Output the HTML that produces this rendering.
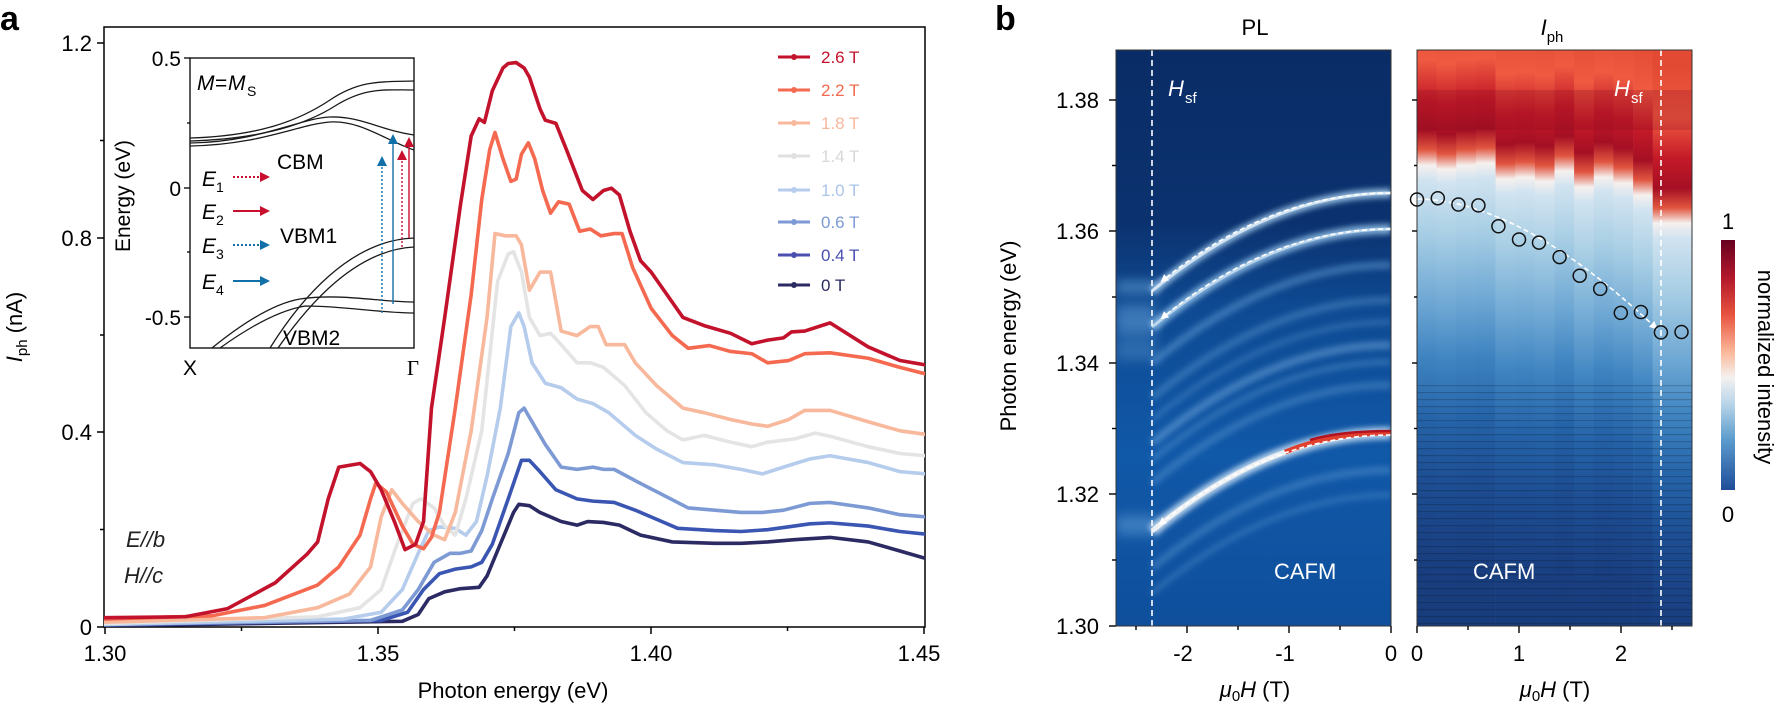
<!DOCTYPE html>
<html><head><meta charset="utf-8"><style>
html,body{margin:0;padding:0;background:#fff;overflow:hidden;width:1777px;height:711px;}
svg{display:block;font-family:"Liberation Sans",Arial,sans-serif;}
</style></head><body>
<svg width="1777" height="711" viewBox="0 0 1777 711" xmlns="http://www.w3.org/2000/svg" overflow="hidden">
<defs>
 <clipPath id="cA"><rect x="104" y="27" width="821" height="600"/></clipPath>
 <clipPath id="cIn"><rect x="190" y="58" width="224" height="290"/></clipPath>
 <clipPath id="cPL"><rect x="1116" y="50" width="275" height="576"/></clipPath>
 <clipPath id="cIp"><rect x="1417" y="50" width="275" height="576"/></clipPath>
 <filter id="bl" x="-20%" y="-50%" width="140%" height="200%"><feGaussianBlur stdDeviation="3"/></filter>
 <filter id="bl2" x="-20%" y="-50%" width="140%" height="200%"><feGaussianBlur stdDeviation="6"/></filter>
 <linearGradient id="plbg" x1="0" y1="50" x2="0" y2="626" gradientUnits="userSpaceOnUse">
  <stop offset="0" stop-color="#0a2c66"/><stop offset="0.3" stop-color="#0b326f"/>
  <stop offset="0.45" stop-color="#0e4a93"/><stop offset="0.7" stop-color="#1058a8"/>
  <stop offset="1" stop-color="#0f4f9c"/>
 </linearGradient>
 <linearGradient id="ig" x1="0" y1="0" x2="0" y2="700" gradientUnits="userSpaceOnUse">
  <stop offset="0.014" stop-color="#e34a33"/><stop offset="0.086" stop-color="#ef5a41"/>
  <stop offset="0.143" stop-color="#c41a28"/><stop offset="0.186" stop-color="#a50f24"/>
  <stop offset="0.214" stop-color="#e0553f"/><stop offset="0.236" stop-color="#f5f0ee"/>
  <stop offset="0.257" stop-color="#d1e3f0"/><stop offset="0.33" stop-color="#a9cfe5"/>
  <stop offset="0.43" stop-color="#6fa8d4"/><stop offset="0.51" stop-color="#3f84c1"/>
  <stop offset="0.6" stop-color="#2563a8"/><stop offset="0.69" stop-color="#1d4d92"/>
  <stop offset="0.8" stop-color="#193f80"/><stop offset="1" stop-color="#173a78"/>
 </linearGradient>
 <linearGradient id="cb" x1="0" y1="0" x2="0" y2="1">
  <stop offset="0" stop-color="#67001f"/><stop offset="0.15" stop-color="#b2182b"/>
  <stop offset="0.3" stop-color="#e8543f"/><stop offset="0.45" stop-color="#fbb99c"/>
  <stop offset="0.55" stop-color="#f4f1f0"/><stop offset="0.65" stop-color="#bcd7ea"/>
  <stop offset="0.8" stop-color="#5a9bcd"/><stop offset="1" stop-color="#1f4d9a"/>
 </linearGradient>
 <pattern id="str" x="0" y="0" width="10" height="7" patternUnits="userSpaceOnUse">
  <rect x="0" y="0" width="10" height="1.2" fill="#000" opacity="0.18"/>
 </pattern>
 <marker id="aw" markerWidth="8" markerHeight="8" refX="6" refY="4" orient="auto" markerUnits="userSpaceOnUse"><path d="M0,0 L8,4 L0,8 Z" fill="#fff"/></marker>
 <marker id="ar" markerWidth="10" markerHeight="10" refX="8" refY="5" orient="auto" markerUnits="userSpaceOnUse"><path d="M0,0 L10,5 L0,10 Z" fill="#c8102e"/></marker>
 <marker id="ab" markerWidth="10" markerHeight="10" refX="8" refY="5" orient="auto" markerUnits="userSpaceOnUse"><path d="M0,0 L10,5 L0,10 Z" fill="#1170a8"/></marker>
</defs>

<!-- ============ Panel a ============ -->
<text x="0" y="30" font-size="34" font-weight="bold">a</text>
<rect x="104" y="27" width="821" height="600" fill="none" stroke="#000" stroke-width="1.5"/>
<g stroke="#000" stroke-width="1.5">
 <line x1="97" y1="627" x2="104" y2="627"/><line x1="97" y1="432" x2="104" y2="432"/>
 <line x1="97" y1="238" x2="104" y2="238"/><line x1="97" y1="43" x2="104" y2="43"/>
 <line x1="100" y1="529.5" x2="104" y2="529.5"/><line x1="100" y1="335" x2="104" y2="335"/><line x1="100" y1="140.5" x2="104" y2="140.5"/>
 <line x1="105" y1="627" x2="105" y2="634"/><line x1="378" y1="627" x2="378" y2="634"/>
 <line x1="651" y1="627" x2="651" y2="634"/><line x1="924" y1="627" x2="924" y2="634"/>
 <line x1="241.5" y1="627" x2="241.5" y2="631"/><line x1="514.5" y1="627" x2="514.5" y2="631"/><line x1="787.5" y1="627" x2="787.5" y2="631"/>
</g>
<g font-size="22" text-anchor="end">
 <text x="92" y="635">0</text><text x="92" y="440">0.4</text><text x="92" y="246">0.8</text><text x="92" y="51">1.2</text>
</g>
<g font-size="22" text-anchor="middle">
 <text x="105" y="661">1.30</text><text x="378" y="661">1.35</text><text x="651" y="661">1.40</text><text x="919" y="661">1.45</text>
</g>
<text x="513" y="698" font-size="22" text-anchor="middle">Photon energy (eV)</text>
<text transform="translate(22,327) rotate(-90)" font-size="22" text-anchor="middle"><tspan font-style="italic">I</tspan><tspan font-size="15" dy="5">ph</tspan><tspan dy="-5"> (nA)</tspan></text>

<g clip-path="url(#cA)">
<g transform="scale(0.5294,0.4535)" fill="none" stroke-width="3.6" stroke-linejoin="round" stroke-linecap="round">
 <polyline vector-effect="non-scaling-stroke" stroke="#2c2a63" points="197,1380 760,1370 790,1355 810,1320 840,1305 870,1298 905,1295 920,1270 945,1200 970,1130 980,1112 1000,1115 1020,1130 1060,1150 1090,1158 1110,1150 1140,1152 1170,1158 1210,1180 1270,1195 1350,1198 1400,1198 1450,1195 1500,1190 1568,1185 1640,1195 1700,1215 1750,1232"/>
 <polyline vector-effect="non-scaling-stroke" stroke="#3a56b2" points="197,1378 720,1368 770,1350 800,1300 830,1265 860,1255 890,1250 910,1240 930,1200 960,1100 985,1015 1000,1015 1020,1040 1050,1080 1090,1100 1120,1105 1160,1108 1200,1125 1250,1150 1280,1165 1350,1170 1400,1172 1450,1168 1500,1160 1530,1155 1568,1153 1640,1160 1700,1172 1750,1178"/>
 <polyline vector-effect="non-scaling-stroke" stroke="#7d9ad4" points="197,1377 700,1368 760,1345 790,1300 820,1240 850,1220 870,1220 890,1215 910,1170 930,1100 960,1000 980,910 990,900 1000,920 1030,980 1060,1030 1090,1035 1120,1030 1140,1035 1160,1035 1200,1060 1250,1090 1300,1120 1350,1125 1400,1130 1440,1130 1480,1125 1530,1110 1568,1108 1640,1120 1700,1135 1750,1140"/>
 <polyline vector-effect="non-scaling-stroke" stroke="#b5ccec" points="197,1377 650,1365 720,1350 760,1300 790,1220 810,1170 830,1162 860,1165 880,1180 900,1150 920,1050 945,900 965,720 980,690 990,720 1005,800 1030,845 1060,855 1090,880 1120,890 1150,910 1200,960 1240,990 1290,1020 1350,1025 1400,1035 1440,1045 1480,1030 1530,1012 1568,1005 1640,1020 1700,1040 1750,1045"/>
 <polyline vector-effect="non-scaling-stroke" stroke="#e4e4e4" points="197,1375 600,1360 680,1340 720,1300 750,1200 780,1110 795,1100 820,1120 840,1160 860,1180 880,1100 910,950 940,620 960,560 970,555 985,600 1000,700 1020,740 1040,735 1060,760 1090,800 1115,800 1140,810 1180,850 1220,910 1260,950 1290,970 1330,960 1380,975 1420,985 1450,975 1500,968 1540,955 1568,962 1640,985 1700,1000 1750,1005"/>
 <polyline vector-effect="non-scaling-stroke" stroke="#f8b89c" points="197,1372 500,1362 600,1340 660,1310 700,1250 720,1140 740,1080 760,1110 790,1150 820,1180 840,1190 860,1130 890,950 920,700 935,515 955,520 975,520 985,540 1000,640 1020,600 1040,600 1060,730 1090,740 1115,720 1130,720 1145,760 1180,760 1200,800 1240,850 1290,900 1330,910 1380,925 1420,935 1450,940 1490,925 1520,905 1568,905 1640,930 1700,950 1750,958"/>
 <polyline vector-effect="non-scaling-stroke" stroke="#f4694f" points="197,1365 400,1358 500,1335 600,1290 640,1250 680,1180 700,1100 710,1065 730,1085 760,1160 780,1200 800,1210 815,1185 830,1130 860,900 890,650 910,440 925,330 935,292 950,350 965,400 975,395 985,340 998,315 1010,350 1025,420 1040,470 1055,445 1075,450 1095,510 1115,505 1135,520 1160,515 1175,515 1195,590 1230,680 1270,740 1300,768 1340,762 1380,775 1420,780 1450,800 1490,795 1520,780 1568,778 1640,790 1700,810 1750,825"/>
 <polyline vector-effect="non-scaling-stroke" stroke="#c3122c" points="197,1362 350,1360 430,1342 520,1285 580,1222 600,1195 620,1100 640,1030 680,1022 700,1040 720,1080 745,1150 765,1212 785,1200 800,1150 815,900 840,700 870,450 890,300 905,262 915,270 930,200 950,150 960,140 975,138 990,150 1000,170 1020,240 1030,265 1050,272 1070,330 1100,420 1120,440 1140,420 1155,415 1170,430 1190,510 1210,575 1230,600 1260,650 1290,700 1330,718 1380,735 1420,758 1450,750 1480,745 1495,732 1520,730 1568,712 1640,765 1700,795 1750,805"/>
</g>
</g>

<!-- legend -->
<g font-size="17">
 <g stroke-width="3"><line x1="778" y1="57" x2="810" y2="57" stroke="#c3122c"/><circle cx="794" cy="57" r="3" fill="#c3122c"/></g><text x="821" y="63" fill="#c3122c">2.6 T</text>
 <g stroke-width="3"><line x1="778" y1="90" x2="810" y2="90" stroke="#f4694f"/><circle cx="794" cy="90" r="3" fill="#f4694f"/></g><text x="821" y="96" fill="#f4694f">2.2 T</text>
 <g stroke-width="3"><line x1="778" y1="123" x2="810" y2="123" stroke="#f8b89c"/><circle cx="794" cy="123" r="3" fill="#f8b89c"/></g><text x="821" y="129" fill="#f8b89c">1.8 T</text>
 <g stroke-width="3"><line x1="778" y1="156" x2="810" y2="156" stroke="#e0e0e0"/><circle cx="794" cy="156" r="3" fill="#e0e0e0"/></g><text x="821" y="162" fill="#d8d8d8">1.4 T</text>
 <g stroke-width="3"><line x1="778" y1="190" x2="810" y2="190" stroke="#b5ccec"/><circle cx="794" cy="190" r="3" fill="#b5ccec"/></g><text x="821" y="196" fill="#a9c3e8">1.0 T</text>
 <g stroke-width="3"><line x1="778" y1="222" x2="810" y2="222" stroke="#7d9ad4"/><circle cx="794" cy="222" r="3" fill="#7d9ad4"/></g><text x="821" y="228" fill="#7d9ad4">0.6 T</text>
 <g stroke-width="3"><line x1="778" y1="255" x2="810" y2="255" stroke="#4a4fb0"/><circle cx="794" cy="255" r="3" fill="#4a4fb0"/></g><text x="821" y="261" fill="#4a4fb0">0.4 T</text>
 <g stroke-width="3"><line x1="778" y1="285" x2="810" y2="285" stroke="#2c2a63"/><circle cx="794" cy="285" r="3" fill="#2c2a63"/></g><text x="821" y="291" fill="#2c2a63">0 T</text>
</g>

<g font-size="22" font-style="italic" fill="#222">
 <text x="126" y="547">E//b</text><text x="124" y="583">H//c</text>
</g>

<!-- inset -->
<rect x="190" y="58" width="224" height="290" fill="#fff" stroke="#000" stroke-width="1.3"/>
<g stroke="#000" stroke-width="1.3">
 <line x1="184" y1="58" x2="190" y2="58"/><line x1="184" y1="188" x2="190" y2="188"/><line x1="184" y1="317" x2="190" y2="317"/>
 <line x1="187" y1="123" x2="190" y2="123"/><line x1="187" y1="252" x2="190" y2="252"/>
</g>
<g font-size="21" text-anchor="end"><text x="181" y="66">0.5</text><text x="181" y="196">0</text><text x="181" y="325">-0.5</text></g>
<text transform="translate(130,196) rotate(-90)" font-size="21" text-anchor="middle">Energy (eV)</text>
<text x="190" y="375" font-size="21" text-anchor="middle">X</text>
<text x="413" y="375" font-size="21" text-anchor="middle" font-family="Liberation Serif,serif">Γ</text>
<g clip-path="url(#cIn)" fill="none" stroke="#1a1a1a" stroke-width="1.3">
 <path d="M190,138 C260,136 300,120 330,100 S380,82 414,81"/>
 <path d="M190,141 C260,139 305,125 335,106 S385,90 414,90"/>
 <path d="M190,143 C260,142 300,118 330,117 S380,130 414,135"/>
 <path d="M190,146 C260,145 300,124 330,122 S385,140 414,150"/>
 <path d="M212,348 Q265,305 300,299 C340,293 380,302 414,302"/>
 <path d="M220,348 Q270,312 305,306 C345,306 380,313 414,313"/>
 <path d="M270,348 C300,300 350,240 414,238"/>
 <path d="M278,348 C308,305 355,250 414,247"/>
</g>
<g font-size="21">
 <text x="197" y="90" font-style="italic">M</text><text x="215" y="90">=</text><text x="228" y="90" font-style="italic">M</text><text x="247" y="96" font-size="14">S</text>
 <text x="277" y="169">CBM</text><text x="280" y="243">VBM1</text><text x="283" y="345">VBM2</text>
 <text x="202" y="186" font-style="italic">E</text><text x="216" y="192" font-size="14">1</text>
 <text x="202" y="219" font-style="italic">E</text><text x="216" y="225" font-size="14">2</text>
 <text x="202" y="253" font-style="italic">E</text><text x="216" y="259" font-size="14">3</text>
 <text x="202" y="289" font-style="italic">E</text><text x="216" y="295" font-size="14">4</text>
</g>
<g stroke-width="2" fill="none">
 <line x1="233" y1="177" x2="268" y2="177" stroke="#c8102e" stroke-dasharray="2 2" marker-end="url(#ar)"/>
 <line x1="233" y1="211" x2="268" y2="211" stroke="#c8102e" marker-end="url(#ar)"/>
 <line x1="233" y1="245" x2="268" y2="245" stroke="#1170a8" stroke-dasharray="2 2" marker-end="url(#ab)"/>
 <line x1="233" y1="281" x2="268" y2="281" stroke="#1170a8" marker-end="url(#ab)"/>
 <line x1="382" y1="313" x2="382" y2="158" stroke="#1170a8" stroke-width="1.4" stroke-dasharray="2 2" marker-end="url(#ab)"/>
 <line x1="393" y1="304" x2="393" y2="136" stroke="#1170a8" stroke-width="1.4" marker-end="url(#ab)"/>
 <line x1="402" y1="247" x2="402" y2="152" stroke="#c8102e" stroke-width="1.4" stroke-dasharray="2 2" marker-end="url(#ar)"/>
 <line x1="409" y1="238" x2="409" y2="139" stroke="#c8102e" stroke-width="1.4" marker-end="url(#ar)"/>
</g>

<!-- ============ Panel b ============ -->
<text x="995" y="30" font-size="34" font-weight="bold">b</text>
<text x="1255" y="35" font-size="22" text-anchor="middle">PL</text>
<text x="1552" y="35" font-size="22" text-anchor="middle"><tspan font-style="italic">I</tspan><tspan font-size="15" dy="7">ph</tspan></text>

<!-- PL map -->
<g clip-path="url(#cPL)">
 <rect x="1116" y="50" width="275" height="576" fill="url(#plbg)"/>
 <g filter="url(#bl2)" fill="#6aa6db">
  <rect x="1116" y="282" width="40" height="10" opacity="0.7"/>
  <rect x="1116" y="305" width="40" height="30" opacity="0.5"/>
  <rect x="1116" y="340" width="40" height="20" opacity="0.35"/>
  <rect x="1116" y="515" width="40" height="20" opacity="0.5"/>
 </g>
 <g fill="none" filter="url(#bl)">
  <path d="M1391,265 Q1271,265 1152,363" stroke="#6aa6db" stroke-width="8" opacity="0.45"/>
  <path d="M1391,300 Q1271,300 1152,398" stroke="#6aa6db" stroke-width="8" opacity="0.35"/>
  <path d="M1391,322 Q1271,322 1152,420" stroke="#6aa6db" stroke-width="6" opacity="0.3"/>
  <path d="M1391,345 Q1271,345 1152,443" stroke="#7fb4e2" stroke-width="8" opacity="0.45"/>
  <path d="M1391,362 Q1271,362 1152,460" stroke="#6aa6db" stroke-width="6" opacity="0.35"/>
  <path d="M1391,385 Q1271,385 1152,483" stroke="#6aa6db" stroke-width="8" opacity="0.35"/>
  <path d="M1391,470 Q1271,470 1152,568" stroke="#6aa6db" stroke-width="8" opacity="0.35"/>
  <path d="M1391,495 Q1271,495 1152,593" stroke="#6aa6db" stroke-width="6" opacity="0.3"/>
  <path d="M1391,193 Q1271,193 1152,291" stroke="#a8d0f0" stroke-width="9" opacity="0.85"/>
  <path d="M1391,229 Q1271,229 1152,327" stroke="#9ac8ee" stroke-width="10" opacity="0.8"/>
  <path d="M1391,433 Q1271,433 1152,531" stroke="#c6e0f5" stroke-width="12" opacity="0.9"/>
 </g>
 <path d="M1391,193 Q1271,193 1152,291" fill="none" stroke="#e6f2fb" stroke-width="3" opacity="0.8"/>
 <path d="M1391,229 Q1271,229 1152,327" fill="none" stroke="#d6eaf8" stroke-width="3" opacity="0.7"/>
 <path d="M1391,433 Q1271,433 1152,531" fill="none" stroke="#f4f4f4" stroke-width="5" opacity="0.9"/>
 <path d="M1391,433 Q1331,433 1285,452" fill="none" stroke="#e0402e" stroke-width="5"/>
 <path d="M1391,431 Q1340,431 1310,440" fill="none" stroke="#b3121f" stroke-width="2.5"/>
 <line x1="1152" y1="50" x2="1152" y2="626" stroke="#fff" stroke-width="1.6" stroke-dasharray="6 4"/>
 <g fill="none" stroke="#fff" stroke-width="1.6" stroke-dasharray="5 3">
  <path d="M1391,193 Q1271,193 1162,281" marker-end="url(#aw)"/>
  <path d="M1391,229 Q1271,229 1162,318" marker-end="url(#aw)"/>
  <path d="M1391,435 Q1271,435 1160,524" marker-end="url(#aw)"/>
 </g>
</g>
<rect x="1116" y="50" width="275" height="576" fill="none" stroke="#333" stroke-width="1"/>

<!-- Iph map -->
<g clip-path="url(#cIp)">
 <g transform="translate(1417,0)">
  <g transform="translate(0,0)"><rect x="0" y="50" width="20" height="576" fill="url(#ig)"/></g>
  <g transform="translate(0,4)"><rect x="19.6" y="46" width="20" height="576" fill="url(#ig)"/></g>
  <g transform="translate(0,0)"><rect x="39.3" y="50" width="20" height="576" fill="url(#ig)"/></g>
  <g transform="translate(0,-2)"><rect x="58.9" y="52" width="20" height="576" fill="url(#ig)"/></g>
  <g transform="translate(0,14)"><rect x="78.6" y="36" width="20" height="576" fill="url(#ig)"/></g>
  <g transform="translate(0,12)"><rect x="98.2" y="38" width="20" height="576" fill="url(#ig)"/></g>
  <g transform="translate(0,16)"><rect x="117.9" y="34" width="20" height="576" fill="url(#ig)"/></g>
  <g transform="translate(0,6)"><rect x="137.5" y="44" width="20" height="576" fill="url(#ig)"/></g>
  <g transform="translate(0,22)"><rect x="157.1" y="28" width="20" height="576" fill="url(#ig)"/></g>
  <g transform="translate(0,12)"><rect x="176.8" y="38" width="20" height="576" fill="url(#ig)"/></g>
  <g transform="translate(0,18)"><rect x="196.4" y="32" width="20" height="576" fill="url(#ig)"/></g>
  <g transform="translate(0,30)"><rect x="216.1" y="20" width="20" height="576" fill="url(#ig)"/></g>
  <g transform="translate(0,58)"><rect x="235.7" y="-8" width="20" height="576" fill="url(#ig)"/></g>
  <g transform="translate(0,58)"><rect x="255.4" y="-8" width="20" height="576" fill="url(#ig)"/></g>
  <rect x="0" y="90" width="275" height="40" fill="#8b0a1f" opacity="0.25"/>
 </g>
 <rect x="1417" y="380" width="275" height="246" fill="url(#str)"/>
 <line x1="1661" y1="50" x2="1661" y2="626" stroke="#fff" stroke-width="1.6" stroke-dasharray="6 4"/>
 <path d="M1417,199 Q1520,200 1656,328" fill="none" stroke="#fff" stroke-width="1.6" stroke-dasharray="5 3" marker-end="url(#aw)"/>
</g>
<rect x="1417" y="50" width="275" height="576" fill="none" stroke="#333" stroke-width="1"/>
<g fill="none" stroke="#111" stroke-width="1.5">
 <circle cx="1417" cy="199.5" r="6.5"/><circle cx="1437.8" cy="198.2" r="6.5"/><circle cx="1458.4" cy="204.5" r="6.5"/><circle cx="1478.4" cy="205.4" r="6.5"/>
 <circle cx="1498.4" cy="226.3" r="6.5"/><circle cx="1519" cy="239.5" r="6.5"/><circle cx="1539" cy="242.6" r="6.5"/><circle cx="1559.6" cy="257.1" r="6.5"/>
 <circle cx="1579.7" cy="275.7" r="6.5"/><circle cx="1600.2" cy="288.9" r="6.5"/><circle cx="1620.8" cy="312.9" r="6.5"/><circle cx="1640.9" cy="312" r="6.5"/>
 <circle cx="1660.9" cy="332.4" r="6.5"/><circle cx="1681.5" cy="332" r="6.5"/>
</g>

<!-- panel b ticks -->
<g stroke="#000" stroke-width="1.4">
 <line x1="1109" y1="100" x2="1116" y2="100"/><line x1="1109" y1="231" x2="1116" y2="231"/><line x1="1109" y1="363" x2="1116" y2="363"/><line x1="1109" y1="494" x2="1116" y2="494"/><line x1="1109" y1="626" x2="1116" y2="626"/>
 <line x1="1112" y1="165.5" x2="1116" y2="165.5"/><line x1="1112" y1="297" x2="1116" y2="297"/><line x1="1112" y1="428.5" x2="1116" y2="428.5"/><line x1="1112" y1="560" x2="1116" y2="560"/>
 <line x1="1412" y1="100" x2="1417" y2="100"/><line x1="1412" y1="231" x2="1417" y2="231"/><line x1="1412" y1="363" x2="1417" y2="363"/><line x1="1412" y1="494" x2="1417" y2="494"/>
 <line x1="1414" y1="165.5" x2="1417" y2="165.5"/><line x1="1414" y1="297" x2="1417" y2="297"/><line x1="1414" y1="428.5" x2="1417" y2="428.5"/><line x1="1414" y1="560" x2="1417" y2="560"/>
 <line x1="1187" y1="626" x2="1187" y2="633"/><line x1="1289" y1="626" x2="1289" y2="633"/><line x1="1391" y1="626" x2="1391" y2="633"/>
 <line x1="1136" y1="626" x2="1136" y2="630"/><line x1="1238" y1="626" x2="1238" y2="630"/><line x1="1340" y1="626" x2="1340" y2="630"/>
 <line x1="1417" y1="626" x2="1417" y2="633"/><line x1="1519" y1="626" x2="1519" y2="633"/><line x1="1621" y1="626" x2="1621" y2="633"/>
 <line x1="1468" y1="626" x2="1468" y2="630"/><line x1="1570" y1="626" x2="1570" y2="630"/><line x1="1672" y1="626" x2="1672" y2="630"/>
</g>
<g font-size="22" text-anchor="end">
 <text x="1099" y="108">1.38</text><text x="1099" y="239">1.36</text><text x="1099" y="371">1.34</text><text x="1099" y="502">1.32</text><text x="1099" y="634">1.30</text>
</g>
<g font-size="22" text-anchor="middle">
 <text x="1183" y="661">-2</text><text x="1285" y="661">-1</text><text x="1391" y="661">0</text>
 <text x="1417" y="661">0</text><text x="1519" y="661">1</text><text x="1621" y="661">2</text>
</g>
<text transform="translate(1016,336) rotate(-90)" font-size="22" text-anchor="middle">Photon energy (eV)</text>
<g font-size="22" text-anchor="middle">
 <text x="1255" y="697"><tspan font-style="italic">μ</tspan><tspan font-size="15" dy="4">0</tspan><tspan dy="-4" font-style="italic">H</tspan> (T)</text>
 <text x="1555" y="697"><tspan font-style="italic">μ</tspan><tspan font-size="15" dy="4">0</tspan><tspan dy="-4" font-style="italic">H</tspan> (T)</text>
</g>
<g fill="#fff" font-size="22">
 <text x="1168" y="96" font-style="italic">H</text><text x="1185" y="103" font-size="15">sf</text>
 <text x="1614" y="96" font-style="italic">H</text><text x="1631" y="103" font-size="15">sf</text>
 <text x="1274" y="579">CAFM</text><text x="1473" y="579">CAFM</text>
</g>

<!-- colorbar -->
<rect x="1721" y="240" width="14" height="250" fill="url(#cb)"/>
<text x="1728" y="229" font-size="22" text-anchor="middle">1</text>
<text x="1728" y="522" font-size="22" text-anchor="middle">0</text>
<text transform="translate(1758,367) rotate(90)" font-size="22" text-anchor="middle">normalized intensity</text>
</svg>
</body></html>
